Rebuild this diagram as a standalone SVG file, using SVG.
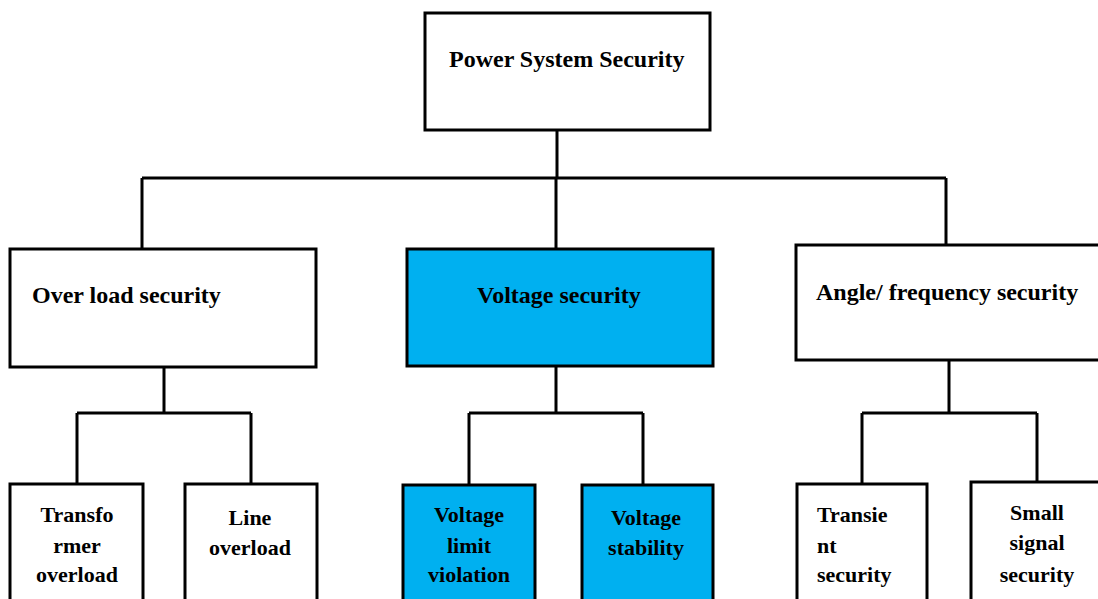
<svg xmlns="http://www.w3.org/2000/svg" width="1098" height="599" viewBox="0 0 1098 599">
<style>
.box{fill:#fff;stroke:#000;stroke-width:3}
.blue{fill:#00B0F0;stroke:#000;stroke-width:3}
.t{font-family:"Liberation Serif","Times New Roman",serif;font-weight:bold;font-size:22px;fill:#000}
.L{font-size:24px}
.c{text-anchor:middle}
.ln{fill:none;stroke:#000;stroke-width:3}
</style>
<rect width="1098" height="599" fill="#fff"/>
<g id="connectors">
<path class="ln" d="M557 130V178M142 178H946M142 178V249M556 178V249M946 178V245"/>
<path class="ln" d="M164 367V413M77 413H251M77 413V484M251 413V484"/>
<path class="ln" d="M556 366V413M469 413H643M469 413V485M643 413V485"/>
<path class="ln" d="M949 360V413M862 413H1037M862 413V484M1037 413V482"/>
</g>
<g id="n-root"><rect class="box" x="425" y="13" width="285" height="117"/><text class="t L" x="449" y="67">Power System Security</text></g>
<g id="n-overload"><rect class="box" x="10" y="249" width="306" height="118"/><text class="t L" x="32" y="303">Over load security</text></g>
<g id="n-voltage"><rect class="blue" x="407" y="249" width="306" height="117"/><text class="t L" x="477" y="303">Voltage security</text></g>
<g id="n-angle"><rect class="box" x="796" y="245" width="310" height="115"/><text class="t L" x="816" y="300">Angle/ frequency security</text></g>
<g id="n-transformer"><rect class="box" x="10" y="484" width="133" height="125"/><text class="t c" x="77" y="522">Transfo</text><text class="t c" x="77" y="553">rmer</text><text class="t c" x="77" y="582">overload</text></g>
<g id="n-line"><rect class="box" x="185" y="484" width="132" height="125"/><text class="t c" x="250" y="525">Line</text><text class="t c" x="250" y="555">overload</text></g>
<g id="n-vlimit"><rect class="blue" x="403" y="485" width="132" height="125"/><text class="t c" x="469" y="522">Voltage</text><text class="t c" x="469" y="553">limit</text><text class="t c" x="469" y="582">violation</text></g>
<g id="n-vstab"><rect class="blue" x="582" y="485" width="131" height="125"/><text class="t c" x="646" y="525">Voltage</text><text class="t c" x="646" y="555">stability</text></g>
<g id="n-transient"><rect class="box" x="797" y="484" width="130" height="125"/><text class="t" x="817" y="522">Transie</text><text class="t" x="817" y="553">nt</text><text class="t" x="817" y="582">security</text></g>
<g id="n-small"><rect class="box" x="971" y="482" width="130" height="127"/><text class="t c" x="1037" y="520">Small</text><text class="t c" x="1037" y="550">signal</text><text class="t c" x="1037" y="582">security</text></g>
</svg>
